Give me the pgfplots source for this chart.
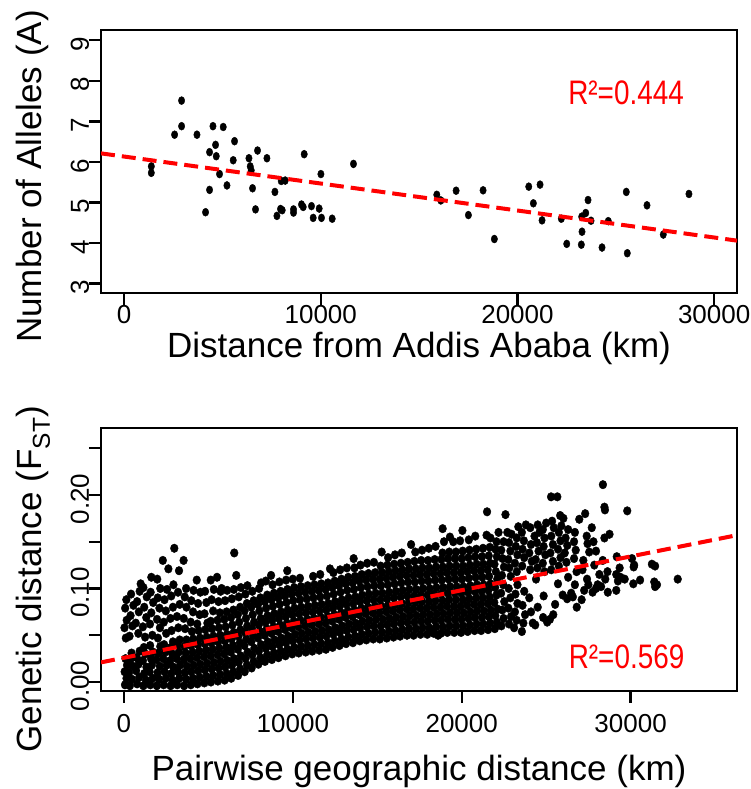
\documentclass[border=0pt]{standalone}
\usepackage{fontspec}
\setmainfont{Liberation Sans}
\usepackage{pgfplots}
\pgfplotsset{compat=1.18}
\definecolor{fitred}{RGB}{255,0,0}

\pgfplotsset{
  rplot/.style={
    scale only axis, width=636pt, height=263pt,
    clip marker paths=true,
    axis line style={line width=2.4pt},
    tick align=outside, tick pos=left,
    major tick length=12pt,
    tick style={line width=2.4pt, black},
    ticklabel style={font=\fontsize{26}{26}\selectfont},
    /pgf/number format/assume math mode=true,
    /pgf/number format/1000 sep={},
    scaled x ticks=false, scaled y ticks=false,
    label style={font=\fontsize{35}{35}\selectfont},
    xticklabel style={anchor=north, inner sep=0pt},
    yticklabel style={rotate=90, anchor=base, inner sep=0pt, xshift=-4pt},
    xtick={0,10000,20000,30000},
  },
  dots/.style={only marks, mark=*, mark size=4pt,
    mark options={xscale=0.8, draw=none, fill=black}},
  cloud/.style={only marks, mark=*, mark size=4.3pt,
    mark options={xscale=0.9, draw=none, fill=black}},
  fit/.style={fitred, line width=4pt, dash pattern=on 14pt off 7pt, no marks},
}

\begin{document}
\begin{tikzpicture}
\path[use as bounding box] (0pt,0pt) rectangle (751pt,789pt);

% number of alleles vs distance from Addis Ababa
\begin{axis}[rplot,
  at={(101pt,496pt)}, anchor=south west,
  xmin=-1170, xmax=31160, ymin=2.77, ymax=9.25,
  ytick={3,4,5,6,7,8,9},
  xlabel={Distance from Addis Ababa (km)},
  xlabel style={at={(axis description cs:0.5,-0.247)}, anchor=base},
  ylabel={Number of Alleles (A)},
  ylabel style={at={(axis description cs:-0.094,0.443)}, anchor=base},
]
\addplot[dots] coordinates {
  (1387,5.89) (1387,5.73) (2926,7.51) (2926,6.88) (2570,6.67) (3708,6.67)
  (4521,6.88) (5044,6.86) (4653,6.42) (4348,6.24) (4689,6.14) (5618,6.51)
  (5552,6.04) (6350,6.09) (6787,6.28) (7264,6.09) (9159,6.19) (6416,5.89)
  (6467,5.79) (4856,5.70) (4348,5.31) (5232,5.42) (4145,4.76) (6533,5.35)
  (6685,4.83) (7671,5.26) (7991,5.53) (8194,5.54) (10008,5.70) (7772,4.67)
  (7955,4.84) (8042,4.81) (8616,4.83) (8616,4.75) (9022,4.95) (9108,4.89)
  (9530,4.91) (9921,4.85) (9616,4.62) (10038,4.62) (10582,4.60) (11664,5.95)
  (15900,5.19) (16104,5.05) (16881,5.29) (18252,5.30) (17506,4.69) (18826,4.10)
  (20574,5.39) (21148,5.44) (20808,4.98) (21250,4.56) (22230,4.60) (22504,3.98)
  (23246,3.96) (23282,4.28) (23266,4.65) (23470,4.74) (23587,5.06) (23739,4.55)
  (24298,3.89) (24618,4.54) (25532,5.26) (25583,3.75) (26584,4.93) (27412,4.21)
  (28717,5.21)
};
\addplot[fit] coordinates {(-1170,6.21) (31160,4.06)};
\node[anchor=base, text=fitred, font=\fontsize{34}{34}\selectfont]
  at (axis cs:25520,7.42) {\scalebox{0.82}[1]{R²=0.444}};
\end{axis}

% pairwise genetic vs geographic distance
\begin{axis}[rplot,
  at={(101pt,98pt)}, anchor=south west,
  xmin=-1360, xmax=36300, ymin=-0.0096, ymax=0.2716,
  ytick={0,0.05,0.1,0.15,0.2,0.25},
  yticklabels={0.00,,0.10,,0.20,},
  xticklabel style={yshift=-11pt},
  xlabel={Pairwise geographic distance (km)},
  xlabel style={at={(axis description cs:0.5,-0.342)}, anchor=base},
  ylabel={Genetic distance (F\textsubscript{ST})},
  ylabel style={at={(axis description cs:-0.094,0.425)}, anchor=base},
]
% 0 - 7000 km: low band plus an upper group
\addplot[cloud] coordinates {
  (60,-0.003) (150,0.004) (40,0.011) (180,0.018) (90,0.025)
  (110,0.047) (30,0.058) (160,0.066) (70,0.079) (140,0.088)
  (350,-0.004) (470,0.003) (300,0.010) (520,0.017) (380,0.024) (450,0.031)
  (330,0.049) (500,0.060) (390,0.071) (560,0.082) (420,0.094)
  (780,-0.002) (900,0.005) (720,0.012) (860,0.019) (760,0.026) (930,0.033)
  (850,0.052) (700,0.063) (880,0.075) (780,0.086) (930,0.097) (990,0.105)
  (1150,-0.004) (1300,0.002) (1200,0.009) (1330,0.016) (1120,0.023) (1260,0.030) (1180,0.037)
  (1250,0.048) (1120,0.059) (1320,0.069) (1200,0.080) (1350,0.091) (1150,0.101)
  (1560,-0.003) (1700,0.004) (1520,0.011) (1650,0.018) (1600,0.025) (1720,0.032) (1550,0.039)
  (1680,0.050) (1540,0.062) (1620,0.074) (1730,0.085) (1580,0.096) (1620,0.112)
  (1950,-0.004) (2080,0.003) (1990,0.010) (2120,0.017) (1920,0.024) (2050,0.031) (2150,0.038)
  (2010,0.047) (2130,0.058) (1960,0.067) (2100,0.079) (2000,0.090) (2150,0.100) (1970,0.110) (2300,0.130)
  (2350,-0.003) (2480,0.004) (2400,0.011) (2520,0.018) (2330,0.025) (2450,0.032) (2380,0.040)
  (2500,0.052) (2360,0.064) (2480,0.076) (2400,0.088) (2550,0.099) (2630,0.121)
  (2760,-0.004) (2880,0.002) (2800,0.009) (2920,0.016) (2740,0.023) (2860,0.030) (2780,0.037) (2900,0.043)
  (2820,0.055) (2750,0.068) (2900,0.080) (2800,0.092) (2930,0.104) (2980,0.143)
  (3150,-0.003) (3280,0.004) (3200,0.011) (3320,0.018) (3130,0.025) (3250,0.032) (3180,0.039) (3300,0.045)
  (3220,0.058) (3140,0.070) (3300,0.083) (3200,0.096) (3260,0.119) (3530,0.130)
  (3560,-0.004) (3680,0.003) (3600,0.010) (3720,0.017) (3540,0.024) (3650,0.031) (3580,0.038) (3700,0.045)
  (3620,0.057) (3540,0.068) (3700,0.080) (3600,0.091) (3680,0.100)
  (3960,-0.003) (4080,0.004) (3990,0.011) (4120,0.018) (3930,0.025) (4060,0.032) (3980,0.039) (4100,0.046) (4020,0.054)
  (3950,0.064) (4090,0.075) (3990,0.087) (4120,0.098)
  (4350,-0.002) (4480,0.005) (4400,0.012) (4520,0.019) (4330,0.026) (4460,0.033) (4380,0.040) (4500,0.047) (4420,0.055) (4340,0.062)
  (4480,0.072) (4390,0.084) (4310,0.109) (4520,0.096)
  (4760,-0.001) (4880,0.006) (4790,0.013) (4920,0.020) (4740,0.027) (4860,0.034) (4780,0.041) (4900,0.048) (4820,0.056) (4940,0.063)
  (4770,0.073) (4880,0.085) (4800,0.097)
  (5150,0.000) (5280,0.007) (5200,0.014) (5320,0.021) (5130,0.028) (5250,0.035) (5180,0.042) (5300,0.049) (5220,0.057) (5140,0.065)
  (5280,0.076) (5190,0.088) (5140,0.109) (5320,0.099)
  (5560,0.001) (5680,0.008) (5600,0.015) (5720,0.022) (5540,0.029) (5650,0.036) (5580,0.043) (5700,0.050) (5620,0.058) (5540,0.066) (5680,0.074)
  (5600,0.086) (5510,0.112) (5720,0.097) (5780,0.100)
  (5960,0.002) (6080,0.009) (6000,0.016) (6120,0.023) (5940,0.030) (6060,0.037) (5980,0.044) (6100,0.051) (6020,0.059) (5940,0.067) (6080,0.075)
  (5990,0.087) (6110,0.098)
  (6350,0.004) (6480,0.011) (6400,0.018) (6520,0.025) (6330,0.032) (6450,0.039) (6380,0.046) (6500,0.053) (6420,0.061) (6340,0.069) (6480,0.077)
  (6390,0.089) (6510,0.099) (6530,0.138) (6650,0.114)
  (6760,0.007) (6880,0.014) (6790,0.021) (6920,0.028) (6740,0.035) (6860,0.042) (6780,0.049) (6900,0.056) (6820,0.064) (6740,0.072) (6880,0.080)
  (6800,0.091) (6920,0.101)
};
% 7000 - 22000 km: main band
\addplot[cloud] coordinates {
  (7150,0.011) (7280,0.018) (7200,0.025) (7320,0.032) (7130,0.039) (7250,0.046) (7180,0.053) (7300,0.060) (7220,0.068) (7140,0.076) (7280,0.084) (7190,0.094) (7310,0.103)
  (7560,0.015) (7680,0.022) (7600,0.029) (7720,0.036) (7540,0.043) (7650,0.050) (7580,0.057) (7700,0.064) (7620,0.072) (7540,0.080) (7680,0.087) (7600,0.097)
  (7960,0.019) (8080,0.026) (7990,0.033) (8120,0.040) (7930,0.047) (8060,0.054) (7980,0.061) (8100,0.068) (8020,0.076) (7940,0.083) (8080,0.090) (8000,0.100) (8120,0.106)
  (8350,0.022) (8480,0.029) (8400,0.036) (8520,0.043) (8330,0.050) (8450,0.057) (8380,0.064) (8500,0.071) (8420,0.079) (8340,0.086) (8480,0.093) (8400,0.108)
  (8760,0.024) (8880,0.031) (8790,0.038) (8920,0.045) (8740,0.052) (8860,0.059) (8780,0.066) (8900,0.073) (8820,0.081) (8740,0.088) (8880,0.095) (8710,0.114) (8800,0.104)
  (9150,0.026) (9280,0.033) (9200,0.040) (9320,0.047) (9130,0.054) (9250,0.061) (9180,0.068) (9300,0.075) (9220,0.083) (9140,0.090) (9280,0.097) (9200,0.107)
  (9560,0.028) (9680,0.035) (9600,0.042) (9720,0.049) (9540,0.056) (9650,0.063) (9580,0.070) (9700,0.077) (9620,0.085) (9540,0.092) (9680,0.099) (9670,0.119) (9600,0.109)
  (9960,0.030) (10080,0.037) (9990,0.044) (10120,0.051) (9930,0.058) (10060,0.065) (9980,0.072) (10100,0.079) (10020,0.087) (9940,0.094) (10080,0.101) (10000,0.110)
  (10350,0.031) (10480,0.038) (10400,0.045) (10520,0.052) (10330,0.059) (10450,0.066) (10380,0.073) (10500,0.080) (10420,0.088) (10340,0.095) (10480,0.102) (10420,0.111)
  (10760,0.032) (10880,0.039) (10790,0.046) (10920,0.053) (10740,0.060) (10860,0.067) (10780,0.074) (10900,0.081) (10820,0.089) (10740,0.096) (10880,0.103)
  (11150,0.033) (11280,0.040) (11200,0.047) (11320,0.054) (11130,0.061) (11250,0.068) (11180,0.075) (11300,0.082) (11220,0.090) (11140,0.097) (11280,0.104) (11200,0.113)
  (11560,0.034) (11680,0.041) (11600,0.048) (11720,0.055) (11540,0.062) (11650,0.069) (11580,0.076) (11700,0.083) (11620,0.091) (11540,0.098) (11680,0.105) (11620,0.115)
  (11960,0.035) (12080,0.042) (11990,0.049) (12120,0.056) (11930,0.063) (12060,0.070) (11980,0.077) (12100,0.084) (12020,0.092) (11940,0.099) (12080,0.106) (12200,0.121)
  (12350,0.037) (12480,0.044) (12400,0.051) (12520,0.058) (12330,0.065) (12450,0.072) (12380,0.079) (12500,0.086) (12420,0.094) (12340,0.101) (12480,0.108) (12400,0.117)
  (12760,0.039) (12880,0.046) (12790,0.053) (12920,0.060) (12740,0.067) (12860,0.074) (12780,0.081) (12900,0.088) (12820,0.096) (12740,0.103) (12880,0.110) (12800,0.120)
  (13150,0.041) (13280,0.048) (13200,0.055) (13320,0.062) (13130,0.069) (13250,0.076) (13180,0.083) (13300,0.090) (13220,0.098) (13140,0.105) (13280,0.112) (13200,0.122)
  (13560,0.042) (13680,0.049) (13600,0.056) (13720,0.063) (13540,0.070) (13650,0.077) (13580,0.084) (13700,0.091) (13620,0.099) (13540,0.106) (13680,0.113) (13600,0.132) (13650,0.122)
  (13960,0.044) (14080,0.051) (13990,0.058) (14120,0.065) (13930,0.072) (14060,0.079) (13980,0.086) (14100,0.093) (14020,0.101) (13940,0.108) (14080,0.115) (14000,0.125)
  (14350,0.045) (14480,0.052) (14400,0.059) (14520,0.066) (14330,0.073) (14450,0.080) (14380,0.087) (14500,0.094) (14420,0.102) (14340,0.109) (14480,0.116) (14400,0.127)
  (14760,0.046) (14880,0.053) (14790,0.060) (14920,0.067) (14740,0.074) (14860,0.081) (14780,0.088) (14900,0.095) (14820,0.103) (14740,0.110) (14880,0.117) (14800,0.128)
  (15150,0.046) (15280,0.053) (15200,0.060) (15320,0.067) (15130,0.074) (15250,0.081) (15180,0.088) (15300,0.095) (15220,0.103) (15140,0.110) (15280,0.117) (15200,0.124) (15260,0.139)
  (15560,0.047) (15680,0.054) (15600,0.061) (15720,0.068) (15540,0.075) (15650,0.082) (15580,0.089) (15700,0.096) (15620,0.104) (15540,0.111) (15680,0.118) (15600,0.125) (15640,0.133)
  (15960,0.048) (16080,0.055) (15990,0.062) (16120,0.069) (15930,0.076) (16060,0.083) (15980,0.090) (16100,0.097) (16020,0.105) (15940,0.112) (16080,0.119) (16000,0.126) (16050,0.136)
  (16350,0.049) (16480,0.056) (16400,0.063) (16520,0.070) (16330,0.077) (16450,0.084) (16380,0.091) (16500,0.098) (16420,0.106) (16340,0.113) (16480,0.120) (16400,0.127) (16450,0.138)
  (16760,0.050) (16880,0.057) (16790,0.064) (16920,0.071) (16740,0.078) (16860,0.085) (16780,0.092) (16900,0.099) (16820,0.107) (16740,0.114) (16880,0.121) (16800,0.128) (17000,0.147)
  (17150,0.050) (17280,0.057) (17200,0.064) (17320,0.071) (17130,0.078) (17250,0.085) (17180,0.092) (17300,0.099) (17220,0.107) (17140,0.114) (17280,0.121) (17200,0.129) (17250,0.139)
  (17560,0.051) (17680,0.058) (17600,0.065) (17720,0.072) (17540,0.079) (17650,0.086) (17580,0.093) (17700,0.100) (17620,0.108) (17540,0.115) (17680,0.122) (17600,0.130) (17650,0.141)
  (17960,0.051) (18080,0.058) (17990,0.065) (18120,0.072) (17930,0.079) (18060,0.086) (17980,0.093) (18100,0.100) (18020,0.108) (17940,0.115) (18080,0.122) (18000,0.130) (18050,0.143) (18300,0.053)
  (18350,0.052) (18480,0.059) (18400,0.066) (18520,0.073) (18330,0.080) (18450,0.087) (18380,0.094) (18500,0.101) (18420,0.109) (18340,0.116) (18480,0.123) (18400,0.131) (18450,0.145) (18600,0.050)
  (18760,0.052) (18880,0.059) (18790,0.066) (18920,0.073) (18740,0.080) (18860,0.087) (18780,0.094) (18900,0.101) (18820,0.109) (18740,0.116) (18880,0.123) (18800,0.131) (18860,0.138) (18870,0.164) (18950,0.150)
  (19150,0.053) (19280,0.060) (19200,0.067) (19320,0.074) (19130,0.081) (19250,0.088) (19180,0.095) (19300,0.102) (19220,0.110) (19140,0.117) (19280,0.124) (19200,0.132) (19260,0.139) (19300,0.155)
  (19560,0.053) (19680,0.060) (19600,0.067) (19720,0.074) (19540,0.081) (19650,0.088) (19580,0.095) (19700,0.102) (19620,0.110) (19540,0.117) (19680,0.124) (19600,0.132) (19660,0.139) (19500,0.150)
  (19960,0.053) (20080,0.060) (19990,0.067) (20120,0.074) (19930,0.081) (20060,0.088) (19980,0.095) (20100,0.102) (20020,0.110) (19940,0.117) (20080,0.124) (20000,0.132) (20060,0.140) (20040,0.162) (19900,0.151)
  (20350,0.054) (20480,0.061) (20400,0.068) (20520,0.075) (20330,0.082) (20450,0.089) (20380,0.096) (20500,0.103) (20420,0.111) (20340,0.118) (20480,0.125) (20400,0.133) (20460,0.141) (20420,0.152)
  (20760,0.055) (20880,0.062) (20790,0.069) (20920,0.076) (20740,0.083) (20860,0.090) (20780,0.097) (20900,0.104) (20820,0.112) (20740,0.119) (20880,0.126) (20800,0.134) (20860,0.142) (20800,0.156)
  (21150,0.055) (21280,0.062) (21200,0.069) (21320,0.076) (21130,0.083) (21250,0.090) (21180,0.097) (21300,0.104) (21220,0.112) (21140,0.119) (21280,0.126) (21200,0.134) (21260,0.143)
  (21470,0.157) (21700,0.154) (21500,0.182)
  (21560,0.056) (21680,0.063) (21600,0.070) (21720,0.077) (21540,0.084) (21650,0.091) (21580,0.098) (21700,0.105) (21620,0.113) (21540,0.120) (21680,0.127) (21600,0.135) (21660,0.144)
  (21960,0.057) (22080,0.064) (21990,0.071) (22120,0.078) (21930,0.085) (22060,0.093) (21980,0.101) (22100,0.110) (22020,0.118) (21940,0.126) (22080,0.134) (22000,0.142) (22060,0.150) (22180,0.160)
};
% beyond 22000 km: looser
\addplot[cloud] coordinates {
  (22350,0.060) (22480,0.068) (22400,0.077) (22520,0.086) (22330,0.095) (22460,0.104) (22380,0.114) (22500,0.123) (22420,0.132) (22340,0.141) (22480,0.150) (22590,0.179) (22700,0.160)
  (22800,0.062) (22920,0.070) (22760,0.079) (22880,0.090) (22780,0.100) (22900,0.113) (22820,0.122) (22760,0.131) (22880,0.140) (22800,0.149) (22950,0.158) (23100,0.058)
  (23250,0.066) (23150,0.075) (23300,0.084) (23180,0.094) (23300,0.104) (23260,0.118) (23150,0.127) (23300,0.136) (23200,0.145) (23260,0.154) (23350,0.166) (23560,0.054)
  (23650,0.063) (23750,0.072) (23600,0.082) (23700,0.097) (23580,0.124) (23700,0.133) (23600,0.142) (23680,0.151) (23560,0.160) (23800,0.168)
  (24210,0.063) (24350,0.061) (24100,0.075) (24000,0.090) (24050,0.120) (24150,0.129) (24000,0.138) (24100,0.147) (24310,0.156) (24060,0.165)
  (24820,0.069) (24500,0.080) (24400,0.110) (24480,0.122) (24380,0.131) (24550,0.140) (24450,0.149) (24600,0.160) (24500,0.168)
  (25060,0.064) (25220,0.067) (24850,0.092) (24900,0.118) (24800,0.127) (24950,0.136) (24850,0.145) (24900,0.154) (24800,0.163) (25000,0.170)
  (25420,0.072) (25530,0.083) (25290,0.198) (25660,0.198) (25300,0.120) (25400,0.129) (25250,0.138) (25400,0.147) (25300,0.156) (25450,0.165) (25350,0.172)
  (25980,0.093) (25700,0.105) (25830,0.178) (26020,0.175) (25750,0.124) (25850,0.133) (25700,0.142) (25850,0.151) (25750,0.160) (25900,0.167)
  (26240,0.089) (26480,0.095) (26580,0.091) (26300,0.112) (26200,0.128) (26100,0.138) (26250,0.146) (26150,0.154) (26300,0.163)
  (26810,0.080) (26700,0.104) (26650,0.132) (26750,0.141) (26650,0.150) (26960,0.174) (26700,0.160) (26800,0.118)
  (27310,0.180) (27400,0.156) (27450,0.148) (27550,0.139) (27420,0.110) (27500,0.104) (27250,0.098) (27150,0.120) (27200,0.130) (27100,0.088)
  (27750,0.096) (27950,0.100) (27850,0.125) (28050,0.104) (27800,0.150) (27950,0.140) (27700,0.165)
  (28360,0.211) (28450,0.187) (28480,0.184) (28750,0.158) (28450,0.154) (28630,0.118) (28650,0.096) (28250,0.102) (28350,0.130) (28500,0.110) (28150,0.115)
  (29180,0.134) (29150,0.115) (29250,0.108) (29400,0.112) (29650,0.110) (29150,0.098) (29800,0.183) (29350,0.122)
  (30080,0.132) (30180,0.123) (30560,0.109) (30160,0.105) (30210,0.125)
  (31260,0.126) (31450,0.124) (31400,0.107) (31450,0.102) (31560,0.104) (32790,0.110)
};
\addplot[fit] coordinates {(-1360,0.021) (36300,0.157)};
\node[anchor=base, text=fitred, font=\fontsize{34}{34}\selectfont]
  at (axis cs:29760,0.0147) {\scalebox{0.82}[1]{R²=0.569}};
\end{axis}
\end{tikzpicture}
\end{document}
